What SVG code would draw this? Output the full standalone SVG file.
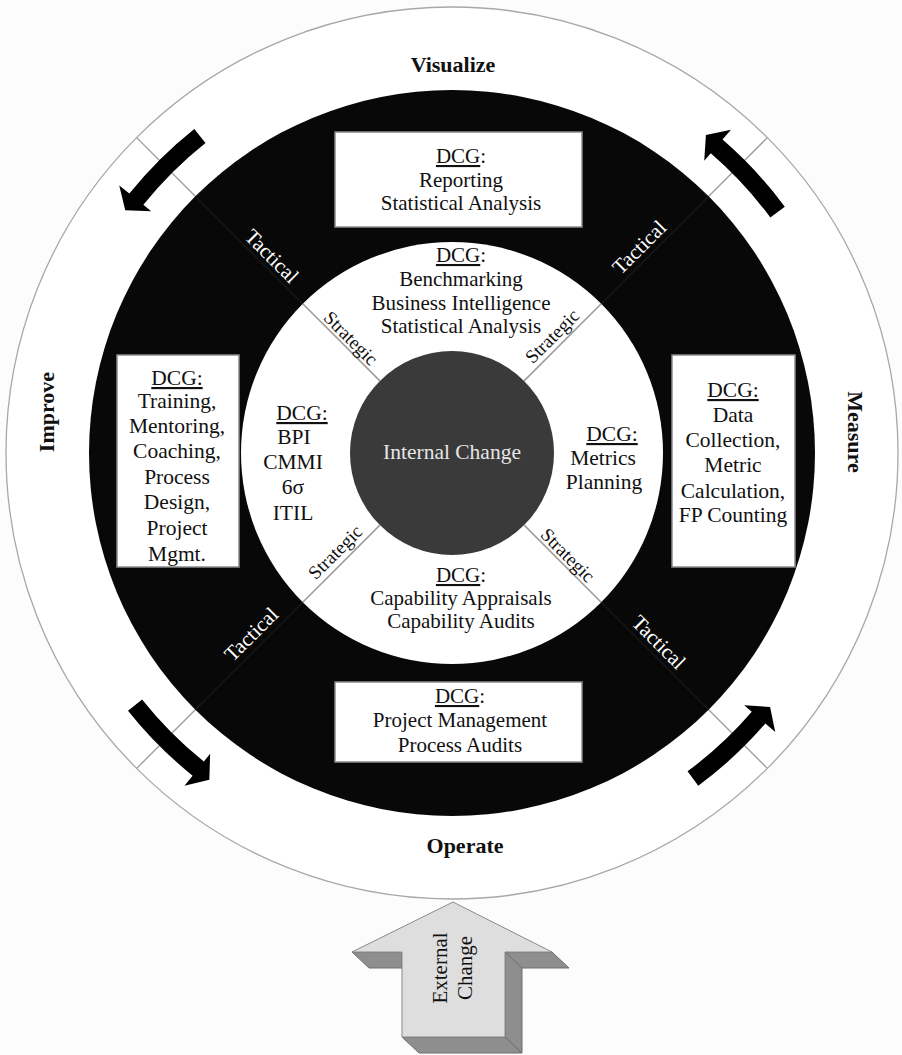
<svg xmlns="http://www.w3.org/2000/svg" xmlns:xlink="http://www.w3.org/1999/xlink" width="902" height="1055" viewBox="0 0 902 1055">
  <style>
    .serif { font-family: "Liberation Serif", "Times New Roman", serif; }
    .lbl { font-family: "Liberation Serif", "Times New Roman", serif; font-size: 21px; fill: #111; text-anchor: middle; }
    .lbl22 { font-family: "Liberation Serif", "Times New Roman", serif; font-size: 21.5px; fill: #111; text-anchor: middle; }
    .phase { font-family: "Liberation Serif", "Times New Roman", serif; font-size: 22px; font-weight: bold; fill: #111; text-anchor: middle; }
    .tac { font-family: "Liberation Serif", "Times New Roman", serif; font-size: 21px; fill: #fff; text-anchor: middle; }
    .str { font-family: "Liberation Serif", "Times New Roman", serif; font-size: 19px; fill: #111; text-anchor: middle; }
    .box { fill: #fff; stroke: #8a8a8a; stroke-width: 1.5; }
    .u { text-decoration: underline; }
    .divOuter { stroke: #9a9a9a; stroke-width: 1.3; }
    .divInner { stroke: #9a9a9a; stroke-width: 1.5; }
    .divDark { stroke: #1c1c1c; stroke-width: 1.2; }
  </style>
  <defs>
    <!-- curved arrow along the outer band, drawn around angle 0 of the ring centre -->
    <path id="cycleArrow" d="M410.45,54.04 A414,414 0 0 0 412.29,-37.52 L425.24,-38.70 L403.61,-52.42 L384.41,-34.98 L394.37,-35.89 A396,396 0 0 1 392.61,51.69 Z" fill="#000"/>
  </defs>

  <rect x="0" y="0" width="902" height="1055" fill="#fcfcfc"/>

  <!-- rings -->
  <g id="rings">
    <circle cx="452" cy="453" r="446" fill="#fff" stroke="#a8a8a8" stroke-width="1.3"/>
    <circle cx="452" cy="453" r="363" fill="#080808"/>
    <circle cx="452" cy="453" r="211" fill="#fff"/>
    <circle id="internal-change" cx="452" cy="453" r="102" fill="#3a3a3a"/>
  </g>

  <!-- connectors: quadrant dividers and cycle arrows -->
  <g id="connectors">
    <g transform="translate(452 453)">
      <line class="divOuter" x1="363" y1="0" x2="446" y2="0" transform="rotate(-135)"/>
      <line class="divOuter" x1="363" y1="0" x2="446" y2="0" transform="rotate(-45)"/>
      <line class="divOuter" x1="363" y1="0" x2="446" y2="0" transform="rotate(45)"/>
      <line class="divOuter" x1="363" y1="0" x2="446" y2="0" transform="rotate(135)"/>
      <line class="divDark" x1="211" y1="0" x2="363" y2="0" transform="rotate(-135)"/>
      <line class="divDark" x1="211" y1="0" x2="363" y2="0" transform="rotate(-45)"/>
      <line class="divDark" x1="211" y1="0" x2="363" y2="0" transform="rotate(45)"/>
      <line class="divDark" x1="211" y1="0" x2="363" y2="0" transform="rotate(135)"/>
      <line class="divInner" x1="102" y1="0" x2="211" y2="0" transform="rotate(-135)"/>
      <line class="divInner" x1="102" y1="0" x2="211" y2="0" transform="rotate(-45)"/>
      <line class="divInner" x1="102" y1="0" x2="211" y2="0" transform="rotate(45)"/>
      <line class="divInner" x1="102" y1="0" x2="211" y2="0" transform="rotate(135)"/>
      <use xlink:href="#cycleArrow" href="#cycleArrow" transform="rotate(-136)"/>
      <use xlink:href="#cycleArrow" href="#cycleArrow" transform="rotate(-44)"/>
      <use xlink:href="#cycleArrow" href="#cycleArrow" transform="rotate(46)"/>
      <use xlink:href="#cycleArrow" href="#cycleArrow" transform="rotate(134)"/>
    </g>
  </g>

  <!-- phase labels -->
  <g id="phase-visualize"><text class="phase" x="453" y="72">Visualize</text></g>
  <g id="phase-operate"><text class="phase" x="465" y="853">Operate</text></g>
  <g id="phase-improve"><text class="phase" transform="translate(54 412) rotate(-90)">Improve</text></g>
  <g id="phase-measure"><text class="phase" transform="translate(848 432) rotate(90)">Measure</text></g>

  <!-- tactical / strategic labels -->
  <g id="tactical-labels">
    <text class="tac" transform="translate(272 256) rotate(45)" dy="0.35em">Tactical</text>
    <text class="tac" transform="translate(639 247) rotate(-45)" dy="0.35em">Tactical</text>
    <text class="tac" transform="translate(251 634) rotate(-45)" dy="0.35em">Tactical</text>
    <text class="tac" transform="translate(659 642) rotate(45)" dy="0.35em">Tactical</text>
  </g>
  <g id="strategic-labels">
    <text class="str" transform="translate(351 338) rotate(45)" dy="0.35em">Strategic</text>
    <text class="str" transform="translate(552 336) rotate(-45)" dy="0.35em">Strategic</text>
    <text class="str" transform="translate(335 552) rotate(-45)" dy="0.35em">Strategic</text>
    <text class="str" transform="translate(568 555) rotate(45)" dy="0.35em">Strategic</text>
  </g>

  <!-- centre -->
  <g id="internal-change-label">
    <text class="serif" x="452" y="459" font-size="21.5" fill="#e6e6e6" text-anchor="middle">Internal Change</text>
  </g>

  <!-- tactical DCG boxes -->
  <g id="box-visualize">
    <rect class="box" x="335" y="132" width="247" height="95"/>
    <text class="lbl" x="461" y="163"><tspan class="u">DCG</tspan>:</text>
    <text class="lbl" x="461" y="187">Reporting</text>
    <text class="lbl" x="461" y="210">Statistical Analysis</text>
  </g>
  <g id="box-improve">
    <rect class="box" x="117" y="355" width="122" height="212"/>
    <text class="lbl22" x="177" y="385"><tspan class="u">DCG:</tspan></text>
    <text class="lbl22" x="177" y="408">Training,</text>
    <text class="lbl22" x="177" y="433">Mentoring,</text>
    <text class="lbl22" x="177" y="458">Coaching,</text>
    <text class="lbl22" x="177" y="484">Process</text>
    <text class="lbl22" x="177" y="509">Design,</text>
    <text class="lbl22" x="177" y="535">Project</text>
    <text class="lbl22" x="177" y="561">Mgmt.</text>
  </g>
  <g id="box-measure">
    <rect class="box" x="672" y="355" width="123" height="212"/>
    <text class="lbl22" x="733" y="397"><tspan class="u">DCG:</tspan></text>
    <text class="lbl22" x="733" y="422">Data</text>
    <text class="lbl22" x="733" y="447">Collection,</text>
    <text class="lbl22" x="733" y="472">Metric</text>
    <text class="lbl22" x="733" y="498">Calculation,</text>
    <text class="lbl22" x="733" y="522">FP Counting</text>
  </g>
  <g id="box-operate">
    <rect class="box" x="335" y="682" width="247" height="80"/>
    <text class="lbl" x="460" y="703"><tspan class="u">DCG</tspan>:</text>
    <text class="lbl" x="460" y="727">Project Management</text>
    <text class="lbl" x="460" y="752">Process Audits</text>
  </g>

  <!-- strategic DCG groups -->
  <g id="strategic-visualize">
    <text class="lbl" x="461" y="262"><tspan class="u">DCG</tspan>:</text>
    <text class="lbl" x="461" y="286">Benchmarking</text>
    <text class="lbl" x="461" y="310">Business Intelligence</text>
    <text class="lbl" x="461" y="333">Statistical Analysis</text>
  </g>
  <g id="strategic-improve">
    <text class="lbl22" x="302" y="420"><tspan class="u">DCG:</tspan></text>
    <text class="lbl22" x="294" y="444">BPI</text>
    <text class="lbl22" x="293" y="469">CMMI</text>
    <text class="lbl22" x="293" y="494">6σ</text>
    <text class="lbl22" x="293" y="520">ITIL</text>
  </g>
  <g id="strategic-measure">
    <text class="lbl22" x="612" y="441"><tspan class="u">DCG:</tspan></text>
    <text class="lbl22" x="603" y="465">Metrics</text>
    <text class="lbl22" x="604" y="489">Planning</text>
  </g>
  <g id="strategic-operate">
    <text class="lbl" x="461" y="582"><tspan class="u">DCG</tspan>:</text>
    <text class="lbl" x="461" y="605">Capability Appraisals</text>
    <text class="lbl" x="461" y="628">Capability Audits</text>
  </g>

  <!-- external change block arrow -->
  <g id="external-change">
    <polygon points="352,952 402,952 402,968 369,968" fill="#8e8e8e" stroke="#6e6e6e" stroke-width="1"/>
    <polygon points="505,952 552,952 569,968 522,968" fill="#8e8e8e" stroke="#6e6e6e" stroke-width="1"/>
    <polygon points="505,952 522,968 522,1053 505,1037" fill="#8e8e8e" stroke="#6e6e6e" stroke-width="1"/>
    <polygon points="402,1037 505,1037 522,1053 419,1053" fill="#8e8e8e" stroke="#6e6e6e" stroke-width="1"/>
    <polygon points="453,902 552,952 505,952 505,1037 402,1037 402,952 352,952" fill="#dedede" stroke="#8a8a8a" stroke-width="1"/>
    <text class="serif" font-size="21" fill="#111" text-anchor="middle" transform="translate(447 968) rotate(-90)">External</text>
    <text class="serif" font-size="21" fill="#111" text-anchor="middle" transform="translate(472 968) rotate(-90)">Change</text>
  </g>
</svg>
